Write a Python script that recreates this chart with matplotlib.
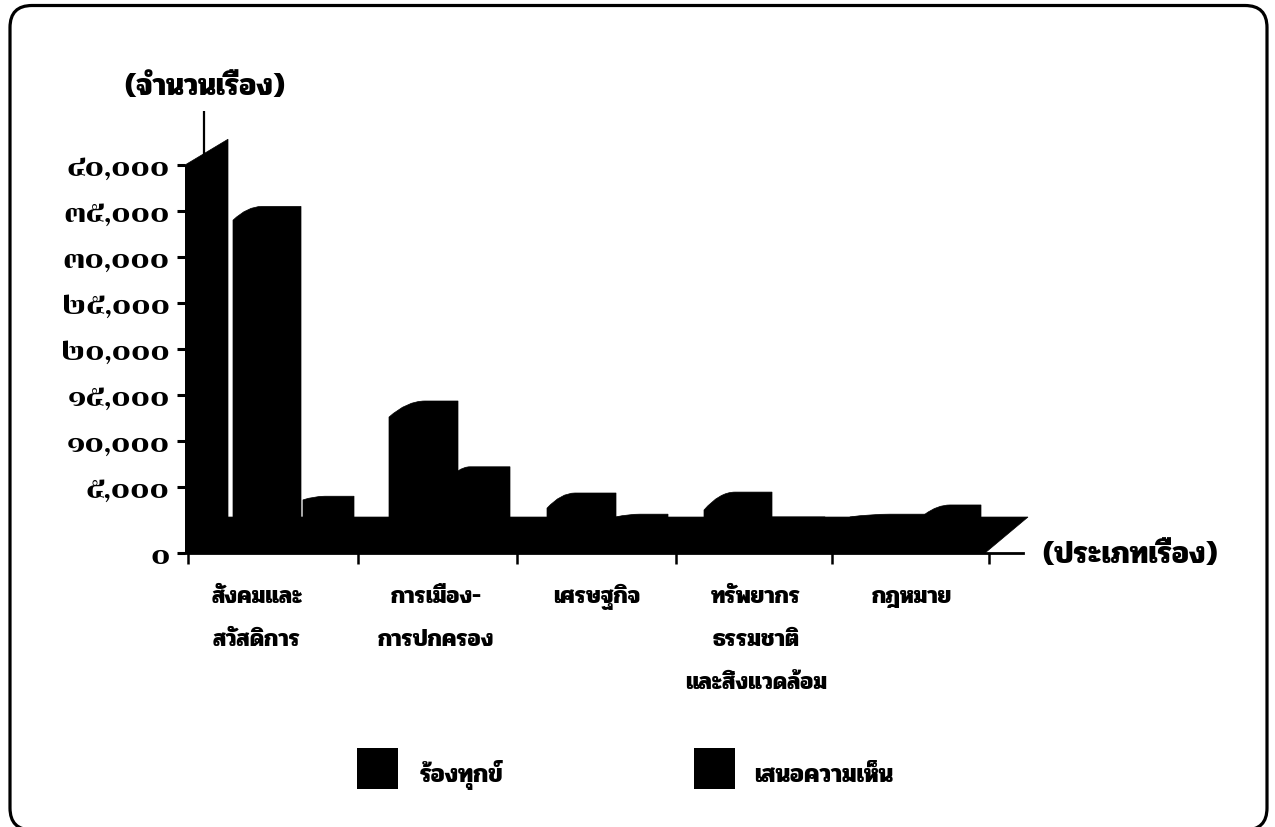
import matplotlib
matplotlib.use("Agg")
import matplotlib.pyplot as plt
from matplotlib.patches import FancyBboxPatch, PathPatch, Polygon, Rectangle
from matplotlib.path import Path
from matplotlib.transforms import IdentityTransform

W, H = 1275, 827
TEXT_FONT = "Pridi"
NUM_FONT = "Chonburi"

# values: each bar has a height at its front corner and at its rear edge
wall_front = 40000
wall_rear = 42800
complaints_front = [34000, 12600, 2700, 2500, 1750]
complaints_rear = [35500, 14350, 4350, 4450, 2050]
opinions_front = [3600, 6750, 1750, 1750, 2050]
opinions_rear = [4000, 7200, 2050, 1750, 3050]
floor_value = 1740
axis_floor = -2170

y_ticks = [axis_floor, 5000, 10000, 15000, 20000, 25000, 30000, 35000, 40000]
y_labels = ["๐", "๕,๐๐๐", "๑๐,๐๐๐", "๑๕,๐๐๐", "๒๐,๐๐๐", "๒๕,๐๐๐", "๓๐,๐๐๐", "๓๕,๐๐๐", "๔๐,๐๐๐"]
category_lines = [
    ["สังคมและ", "สวัสดิการ"],
    ["การเมือง-", "การปกครอง"],
    ["เศรษฐกิจ"],
    ["ทรัพยากร", "ธรรมชาติ", "และสิ่งแวดล้อม"],
    ["กฎหมาย"],
]
series_names = ["ร้องทุกข์", "เสนอความเห็น"]

# horizontal layout, in pixels
x_ticks = [188, 358, 517, 676, 832, 989]
label_x = [257, 436, 597, 756, 912]
complaints_x = [(233, 262, 301), (389, 425, 458), (547, 575, 616), (704, 735, 772), (850, 890, 925)]
opinions_x = [(303, 325, 354), (458, 470, 510), (616, 640, 668), (772, 800, 825), (925, 950, 981)]


def fig_xy(x, y):
    return x / W, 1 - y / H


def draw_bar(ax, xs, front, rear):
    # bar with a rounded shoulder between the front corner and the rear edge
    x0, xc, x1 = xs
    verts = [(x0, axis_floor), (x0, front), ((x0 + xc) / 2, rear), (xc, rear), (x1, rear), (x1, axis_floor), (x0, axis_floor)]
    codes = [Path.MOVETO, Path.LINETO, Path.CURVE3, Path.CURVE3, Path.LINETO, Path.LINETO, Path.CLOSEPOLY]
    ax.add_patch(PathPatch(Path(verts, codes), facecolor="black", edgecolor="black", lw=0.5))


fig = plt.figure(figsize=(W / 100, H / 100), dpi=100, facecolor="white")

# rounded frame, its bottom edge runs off the figure
fig.add_artist(FancyBboxPatch((10, -3), 1257, 824.5, boxstyle="round,pad=0,rounding_size=22",
                              transform=IdentityTransform(), fc="white", ec="black", lw=2.3, zorder=-1))

left, right = 185, 1023
top_px = 100.6
ax = fig.add_axes([left / W, (H - 553) / H, (right - left) / W, (553 - top_px) / H])
ax.patch.set_alpha(0)
ax.set_xlim(left, right)
ax.set_ylim(axis_floor, 47000)
for side in ["top", "right", "left"]:
    ax.spines[side].set_visible(False)
ax.spines["bottom"].set_linewidth(2.0)

# axis stub rising behind the first slab
ax.plot([204, 204], [wall_front, 45900], color="black", lw=1.6, solid_capstyle="butt")

# floor of the chart
ax.add_patch(Polygon([(left, axis_floor), (985, axis_floor), (1028, floor_value), (228, floor_value)],
                     closed=True, fc="black", ec="black", lw=0.5, clip_on=False))

# slab against the value axis
ax.add_patch(Polygon([(left, axis_floor), (left, wall_front), (228, wall_rear), (228, axis_floor)],
                     closed=True, fc="black", ec="black", lw=0.5))

for i in range(len(category_lines)):
    draw_bar(ax, complaints_x[i], complaints_front[i], complaints_rear[i])
    draw_bar(ax, opinions_x[i], opinions_front[i], opinions_rear[i])

ax.set_yticks(y_ticks)
ax.set_yticklabels(y_labels, family=NUM_FONT, fontsize=19.5)
ax.tick_params(axis="y", length=6, width=2.2, pad=5, color="black")
ax.set_xticks(x_ticks)
ax.set_xticklabels([])
ax.tick_params(axis="x", length=8, width=1.8, color="black")

# axis titles
fig.text(*fig_xy(205, 95), "(จำนวนเรื่อง)", family=TEXT_FONT, weight="bold", fontsize=22, ha="center", va="baseline")
fig.text(*fig_xy(1130, 563), "(ประเภทเรื่อง)", family=TEXT_FONT, weight="bold", fontsize=22, ha="center", va="baseline")

# category labels, one text per line
line_y = [603, 646, 689]
for cx, lines in zip(label_x, category_lines):
    for ly, line in zip(line_y, lines):
        fig.text(*fig_xy(cx, ly), line, family=TEXT_FONT, weight="bold", fontsize=17, ha="center", va="baseline")

# legend
swatch_x = [357, 694]
legend_text_x = [420, 754]
for sx, tx, name in zip(swatch_x, legend_text_x, series_names):
    fx, fy = fig_xy(sx, 789)
    fig.add_artist(Rectangle((fx, fy), 41 / W, 41 / H, transform=fig.transFigure, fc="black", ec="none"))
    fig.text(*fig_xy(tx, 782), name, family=TEXT_FONT, weight="bold", fontsize=18, ha="left", va="baseline")

fig.savefig("out.png", dpi=100)
